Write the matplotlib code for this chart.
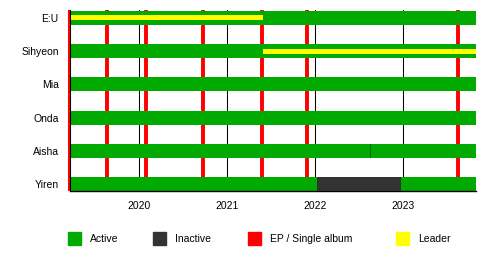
import matplotlib
matplotlib.use("Agg")
import matplotlib.pyplot as plt
from matplotlib.patches import Rectangle

plt.rcParams['font.family'] = ['Liberation Sans', 'DejaVu Sans']

# members, top to bottom
members = ['E:U', 'Sihyeon', 'Mia', 'Onda', 'Aisha', 'Yiren']
start = 2019.2125
end = 2023.826

# inactive periods (member, from, to)
inactive = [('Yiren', 2022.02, 2022.97), ('Aisha', 2022.625, 2022.635)]
# leader periods
leader = [('E:U', 2019.2125, 2021.40), ('Sihyeon', 2021.40, 2023.826)]
# EP / single album releases
releases = [2019.20, 2019.63, 2020.08, 2020.72, 2021.39, 2021.91, 2023.62]
years = [2020, 2021, 2022, 2023]

legend_labels = ['Active', 'Inactive', 'EP / Single album', 'Leader']
legend_x = [68, 153, 248, 396]   # pixel positions of the legend boxes

GREEN = '#00aa00'
DARK = '#333333'
RED = '#ff0000'
YELLOW = '#ffff00'
legend_colors = [GREEN, DARK, RED, YELLOW]

W, H = 500, 260
fig = plt.figure(figsize=(5, 2.6), dpi=100)
ax = fig.add_axes([67 / W, 0.265, 409 / W, 0.697])

n = len(members)
ypos = {m: n - 1 - i for i, m in enumerate(members)}
h = 0.42

# year lines and releases behind the bars
for y in years:
    ax.axvline(y, color='black', lw=0.75, zorder=1)
for r in releases[1:]:
    ax.axvline(r, color=RED, lw=2.8, zorder=1)

for m in members:
    ax.barh(ypos[m], end - start, left=start, height=h, color=GREEN, zorder=2)
for m, a, b in inactive:
    col = DARK if m == 'Yiren' else '#006400'
    ax.barh(ypos[m], b - a, left=a, height=h, color=col, zorder=3)
for m, a, b in leader:
    ax.barh(ypos[m], b - a, left=a, height=0.15, color=YELLOW, zorder=4)

# debut release drawn over the left edge
ax.axvline(releases[0], color=RED, lw=2.2, zorder=5)
ax.axvline(start, color='black', lw=0.75, zorder=6)

ax.set_xlim(2019.178, end)
ax.set_ylim(-0.21, n - 1 + 0.24)
ax.set_yticks([ypos[m] for m in members])
ax.set_yticklabels(members, fontsize=7.5)
ax.set_xticks(years)
ax.set_xticklabels([str(y) for y in years], fontsize=7.5)
ax.tick_params(length=0, pad=7)
ax.tick_params(axis='y', pad=6)
for s in ['top', 'right', 'left']:
    ax.spines[s].set_visible(False)
ax.spines['bottom'].set_linewidth(1)
ax.spines['bottom'].set_bounds(start, end)

# legend boxes
for lab, col, px in zip(legend_labels, legend_colors, legend_x):
    fig.patches.append(Rectangle((px / W, 1 - 245 / H), 13 / W, 13 / H,
                                 transform=fig.transFigure, color=col))
    fig.text((px + 22) / W, 1 - 239 / H, lab, fontsize=7.5, va='center')

fig.savefig('out.png', dpi=100)
